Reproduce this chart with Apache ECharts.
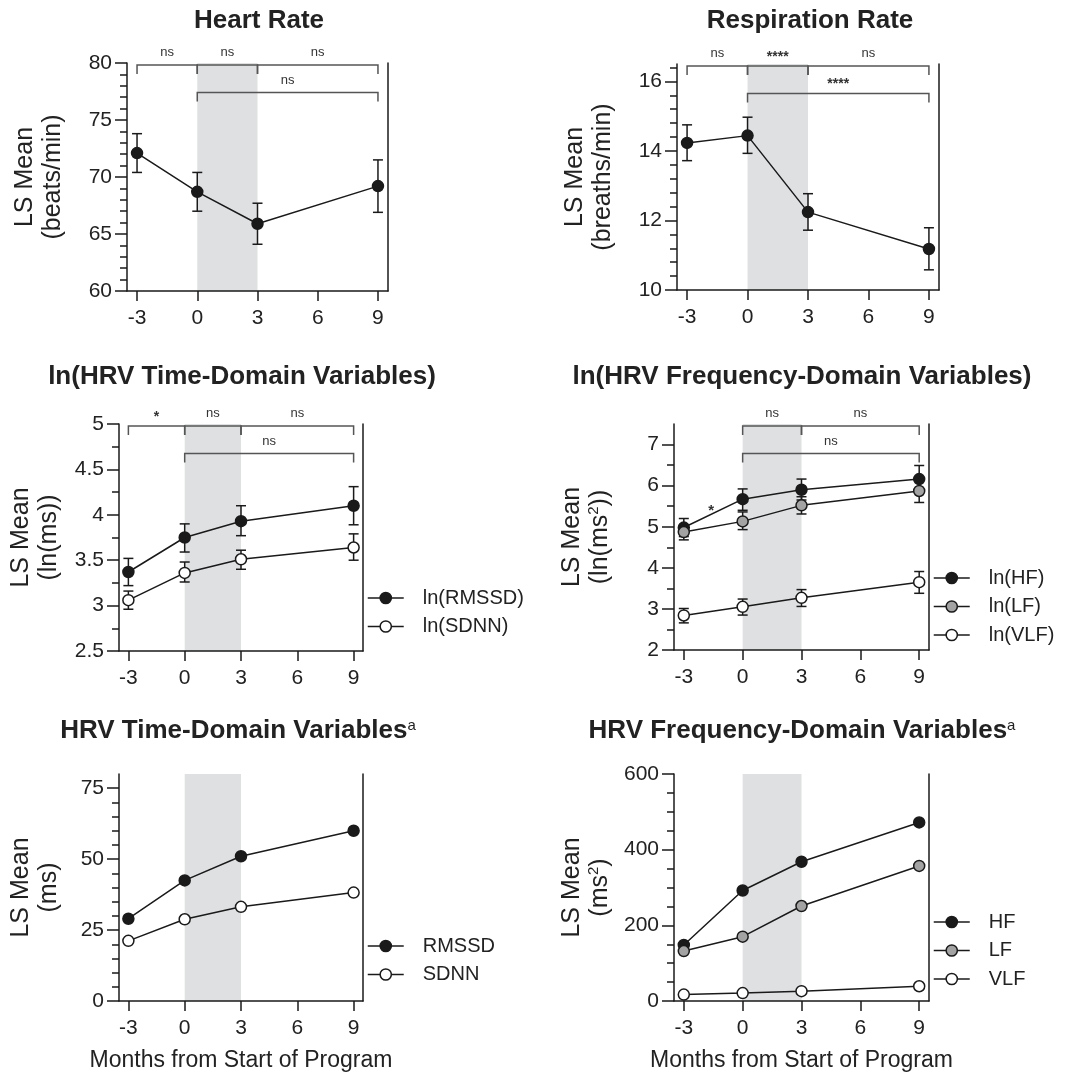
<!DOCTYPE html>
<html>
<head>
<meta charset="utf-8">
<title>LS Mean by month</title>
<script src="https://cdn.jsdelivr.net/npm/echarts@6.0.0/dist/echarts.min.js"></script>
<style>
  html, body { margin: 0; padding: 0; background: #fff; }
  #main { width: 1077px; height: 1075px; }
</style>
</head>
<body>
<div id="main"></div>
<script>
// x values (months from start of program)
var months = [-3, 0, 3, 9];
var monthTicks = [-3, 0, 3, 6, 9];
var shadeMonths = [0, 3];

// Heart Rate
var hrMean = [72.1, 68.7, 65.9, 69.2];
var hrLow = [70.4, 67.0, 64.1, 66.9];
var hrHigh = [73.8, 70.4, 67.7, 71.5];
var hrTicks = [60, 65, 70, 75, 80];

// Respiration Rate
var rrMean = [14.23, 14.44, 12.24, 11.18];
var rrLow = [13.72, 13.93, 11.72, 10.58];
var rrHigh = [14.75, 14.97, 12.77, 11.79];
var rrTicks = [10, 12, 14, 16];

// ln(HRV time domain)
var lnRmssdMean = [3.37, 3.75, 3.93, 4.10];
var lnRmssdLow = [3.22, 3.59, 3.77, 3.89];
var lnRmssdHigh = [3.52, 3.90, 4.10, 4.31];
var lnSdnnMean = [3.06, 3.36, 3.51, 3.64];
var lnSdnnLow = [2.96, 3.26, 3.40, 3.50];
var lnSdnnHigh = [3.16, 3.48, 3.61, 3.79];
var lnTimeTicks = [2.5, 3, 3.5, 4, 4.5, 5];

// ln(HRV frequency domain)
var lnHfMean = [4.98, 5.67, 5.90, 6.16];
var lnHfLow = [4.76, 5.40, 5.65, 5.85];
var lnHfHigh = [5.20, 5.92, 6.16, 6.49];
var lnLfMean = [4.87, 5.13, 5.52, 5.87];
var lnLfLow = [4.68, 4.93, 5.31, 5.59];
var lnLfHigh = [5.03, 5.36, 5.73, 6.12];
var lnVlfMean = [2.84, 3.05, 3.27, 3.65];
var lnVlfLow = [2.66, 2.85, 3.06, 3.38];
var lnVlfHigh = [3.01, 3.24, 3.47, 3.91];
var lnFreqTicks = [2, 3, 4, 5, 6, 7];

// HRV time domain (ms)
var rmssdMean = [29.0, 42.5, 51.0, 60.0];
var sdnnMean = [21.2, 28.8, 33.2, 38.2];
var timeTicks = [0, 25, 50, 75];

// HRV frequency domain (ms^2)
var hfMean = [148, 292, 368, 472];
var lfMean = [132, 170, 251, 357];
var vlfMean = [17, 21, 26, 39];
var freqTicks = [0, 200, 400, 600];

// significance brackets: [from, to, label, row]
var hrBrackets = [[-3, 0, 'ns', 0], [0, 3, 'ns', 0], [3, 9, 'ns', 0], [0, 9, 'ns', 1]];
var rrBrackets = [[-3, 0, 'ns', 0], [0, 3, '****', 0], [3, 9, 'ns', 0], [0, 9, '****', 1]];
var lnTimeBrackets = [[-3, 0, '*', 0], [0, 3, 'ns', 0], [3, 9, 'ns', 0], [0, 9, 'ns', 1]];
var lnFreqBrackets = [[0, 3, 'ns', 0], [3, 9, 'ns', 0], [0, 9, 'ns', 1]];
var lnFreqStar = [[-1.6, 5.45]];

var INK = '#1a1a1a';
var TXT = '#222';
var FONT = '"Liberation Sans", Arial, Helvetica, sans-serif';
var BLACK = '#1a1a1a', GREY = '#a3a3a3', WHITE = '#ffffff';

function pairs(ys) { return months.map(function (m, i) { return [m, ys[i]]; }); }
function bars(lo, hi) { return months.map(function (m, i) { return [m, lo[i], hi[i]]; }); }

var panels = [
  { title: 'Heart Rate', tx: 259, ty: 8,
    grid: { left: 127, top: 63, width: 261, height: 228 },
    yMin: 60, yMax: 80, yStep: 5, yMinor: 5, yTicks: hrTicks,
    yName: 'LS Mean\n(beats/min)', yGap: 60,
    lines: [{ name: 'Heart Rate', mean: hrMean, lo: hrLow, hi: hrHigh, fill: BLACK }],
    brackets: hrBrackets },
  { title: 'Respiration Rate', tx: 810, ty: 8,
    grid: { left: 677, top: 64, width: 262, height: 226 },
    yMin: 10, yMax: 16.5, yStep: 2, yMinor: 5, yTicks: rrTicks,
    yName: 'LS Mean\n(breaths/min)', yGap: 60,
    lines: [{ name: 'Respiration Rate', mean: rrMean, lo: rrLow, hi: rrHigh, fill: BLACK }],
    brackets: rrBrackets },
  { title: 'ln(HRV Time-Domain Variables)', tx: 242, ty: 364,
    grid: { left: 119, top: 424, width: 244, height: 227 },
    yMin: 2.5, yMax: 5, yStep: 0.5, yMinor: 2, yTicks: lnTimeTicks,
    yName: 'LS Mean\n(ln(ms))', yGap: 56,
    lines: [
      { name: 'ln(RMSSD)', mean: lnRmssdMean, lo: lnRmssdLow, hi: lnRmssdHigh, fill: BLACK },
      { name: 'ln(SDNN)', mean: lnSdnnMean, lo: lnSdnnLow, hi: lnSdnnHigh, fill: WHITE }
    ],
    brackets: lnTimeBrackets, legend: { left: 367, top: 588 } },
  { title: 'ln(HRV Frequency-Domain Variables)', tx: 802, ty: 364,
    grid: { left: 674, top: 424, width: 255, height: 226 },
    yMin: 2, yMax: 7.5, yStep: 1, yMinor: 2, yTicks: lnFreqTicks,
    yName: 'LS Mean\n(ln(ms{sup|2}))', yGap: 60,
    lines: [
      { name: 'ln(HF)', mean: lnHfMean, lo: lnHfLow, hi: lnHfHigh, fill: BLACK },
      { name: 'ln(LF)', mean: lnLfMean, lo: lnLfLow, hi: lnLfHigh, fill: GREY },
      { name: 'ln(VLF)', mean: lnVlfMean, lo: lnVlfLow, hi: lnVlfHigh, fill: WHITE }
    ],
    brackets: lnFreqBrackets, star: lnFreqStar, legend: { left: 933, top: 568 } },
  { title: 'HRV Time-Domain Variables{sup|a}', tx: 238, ty: 718,
    grid: { left: 119, top: 774, width: 244, height: 227 },
    yMin: 0, yMax: 80, yStep: 25, yMinor: 5, yTicks: timeTicks,
    yName: 'LS Mean\n(ms)', yGap: 56, xName: true,
    lines: [
      { name: 'RMSSD', mean: rmssdMean, fill: BLACK },
      { name: 'SDNN', mean: sdnnMean, fill: WHITE }
    ],
    legend: { left: 367, top: 936 } },
  { title: 'HRV Frequency-Domain Variables{sup|a}', tx: 802, ty: 718,
    grid: { left: 674, top: 774, width: 255, height: 227 },
    yMin: 0, yMax: 600, yStep: 200, yMinor: 4, yTicks: freqTicks,
    yName: 'LS Mean\n(ms{sup|2})', yGap: 60, xName: true,
    lines: [
      { name: 'HF', mean: hfMean, fill: BLACK },
      { name: 'LF', mean: lfMean, fill: GREY },
      { name: 'VLF', mean: vlfMean, fill: WHITE }
    ],
    legend: { left: 933, top: 912 } }
];

var axisLineStyle = { color: INK, width: 1.5 };

function shadeItem(params, api) {
  var cs = params.coordSys;
  var x0 = api.coord([api.value(0), 0])[0];
  var x1 = api.coord([api.value(1), 0])[0];
  return { type: 'rect', shape: { x: x0, y: cs.y, width: x1 - x0, height: cs.height },
           style: { fill: '#dfe0e2' } };
}

function errorBarItem(params, api) {
  var x = api.value(0);
  var lo = api.coord([x, api.value(1)]);
  var hi = api.coord([x, api.value(2)]);
  var st = { stroke: INK, lineWidth: 1.5 };
  return { type: 'group', children: [
    { type: 'line', shape: { x1: lo[0], y1: lo[1], x2: hi[0], y2: hi[1] }, style: st },
    { type: 'line', shape: { x1: lo[0] - 5, y1: lo[1], x2: lo[0] + 5, y2: lo[1] }, style: st },
    { type: 'line', shape: { x1: hi[0] - 5, y1: hi[1], x2: hi[0] + 5, y2: hi[1] }, style: st }
  ] };
}

function bracketRenderer(list) {
  return function (params, api) {
    var b = list[params.dataIndex];
    var cs = params.coordSys;
    var x0 = api.coord([b[0], 0])[0];
    var x1 = api.coord([b[1], 0])[0];
    var y = cs.y + 2 + b[3] * 27.5;
    var isStar = b[2].indexOf('*') >= 0;
    return { type: 'group', children: [
      { type: 'polyline', shape: { points: [[x0, y + 9], [x0, y], [x1, y], [x1, y + 9]] },
        style: { stroke: '#555', lineWidth: 1.5, fill: null } },
      { type: 'text', x: (x0 + x1) / 2, y: y - 6 + (isStar ? 4 : 0),
        style: { text: b[2], align: 'center', verticalAlign: 'bottom', fill: '#333',
                 font: (isStar ? 'bold 14px ' : '13px ') + FONT } }
    ] };
  };
}

function starItem(params, api) {
  var p = api.coord([api.value(0), api.value(1)]);
  return { type: 'text', x: p[0], y: p[1] + 3,
           style: { text: '*', align: 'center', verticalAlign: 'middle', fill: '#333',
                    font: 'bold 15px ' + FONT } };
}

var option = {
  animation: false,
  backgroundColor: '#fff',
  textStyle: { fontFamily: FONT },
  title: [], legend: [], grid: [], xAxis: [], yAxis: [], series: []
};

panels.forEach(function (p, i) {
  option.title.push({
    text: p.title, left: p.tx, top: p.ty, textAlign: 'center', padding: 0,
    textStyle: { fontSize: 26, fontWeight: 'bold', color: TXT, fontFamily: FONT,
      rich: { sup: { fontSize: 15, fontWeight: 'normal', color: TXT, verticalAlign: 'top', fontFamily: FONT } } }
  });
  option.grid.push(p.grid);
  option.xAxis.push({
    type: 'value', gridIndex: i, min: -3.5, max: 9.5,
    name: p.xName ? 'Months from Start of Program' : '',
    nameLocation: 'middle', nameGap: 48,
    nameTextStyle: { fontSize: 23, color: TXT, fontFamily: FONT },
    axisLine: { onZero: false, lineStyle: axisLineStyle },
    axisTick: { customValues: monthTicks, length: 10, lineStyle: axisLineStyle },
    axisLabel: { customValues: monthTicks, fontSize: 21, color: TXT, margin: 17, fontFamily: FONT },
    splitLine: { show: false }
  });
  option.yAxis.push({
    type: 'value', gridIndex: i, min: p.yMin, max: p.yMax, interval: p.yStep,
    name: p.yName, nameLocation: 'middle', nameGap: p.yGap,
    nameTextStyle: { fontSize: 25, lineHeight: 28, color: TXT, fontFamily: FONT,
      rich: { sup: { fontSize: 15, color: TXT, verticalAlign: 'top', fontFamily: FONT } } },
    axisLine: { show: true, onZero: false, lineStyle: axisLineStyle },
    axisTick: { customValues: p.yTicks, length: 12, lineStyle: axisLineStyle },
    minorTick: { show: true, splitNumber: p.yMinor, length: 7, lineStyle: axisLineStyle },
    axisLabel: { customValues: p.yTicks, fontSize: 21, color: TXT, margin: 15, fontFamily: FONT },
    splitLine: { show: false }
  });
  option.yAxis.push({
    type: 'value', gridIndex: i, min: p.yMin, max: p.yMax, position: 'right',
    axisLine: { show: true, onZero: false, lineStyle: axisLineStyle },
    axisTick: { show: false }, axisLabel: { show: false }, splitLine: { show: false }
  });
  var yIdx = i * 2;

  option.series.push({
    type: 'custom', xAxisIndex: i, yAxisIndex: yIdx, z: 0, silent: true,
    data: [shadeMonths], renderItem: shadeItem
  });

  p.lines.forEach(function (ln) {
    if (ln.lo) {
      option.series.push({
        type: 'custom', xAxisIndex: i, yAxisIndex: yIdx, z: 3, silent: true,
        data: bars(ln.lo, ln.hi), renderItem: errorBarItem
      });
    }
    option.series.push({
      type: 'line', name: ln.name, xAxisIndex: i, yAxisIndex: yIdx, z: 4,
      data: pairs(ln.mean), symbol: 'circle', symbolSize: 11, showSymbol: true,
      lineStyle: { color: INK, width: 1.5 },
      itemStyle: { color: ln.fill, borderColor: INK, borderWidth: 1.5 },
      emphasis: { disabled: true }, silent: true
    });
  });

  if (p.brackets) {
    option.series.push({
      type: 'custom', xAxisIndex: i, yAxisIndex: yIdx, z: 5, silent: true, clip: false,
      data: p.brackets.map(function (b) { return [b[0], b[1]]; }),
      renderItem: bracketRenderer(p.brackets)
    });
  }
  if (p.star) {
    option.series.push({
      type: 'custom', xAxisIndex: i, yAxisIndex: yIdx, z: 5, silent: true,
      data: p.star, renderItem: starItem
    });
  }
  if (p.legend) {
    option.legend.push({
      left: p.legend.left, top: p.legend.top, orient: 'vertical', padding: 0,
      selectedMode: false, itemWidth: 36, itemHeight: 14, itemGap: 8.5,
      data: p.lines.map(function (ln) { return ln.name; }),
      lineStyle: { width: 1.5 },
      itemStyle: { borderWidth: 1.5 },
      textStyle: { fontSize: 20, color: TXT, fontFamily: FONT, padding: [0, 0, 0, 14] }
    });
  }
});

var chart = echarts.init(document.getElementById('main'), null, { renderer: 'canvas' });
chart.setOption(option);
</script>
</body>
</html>
